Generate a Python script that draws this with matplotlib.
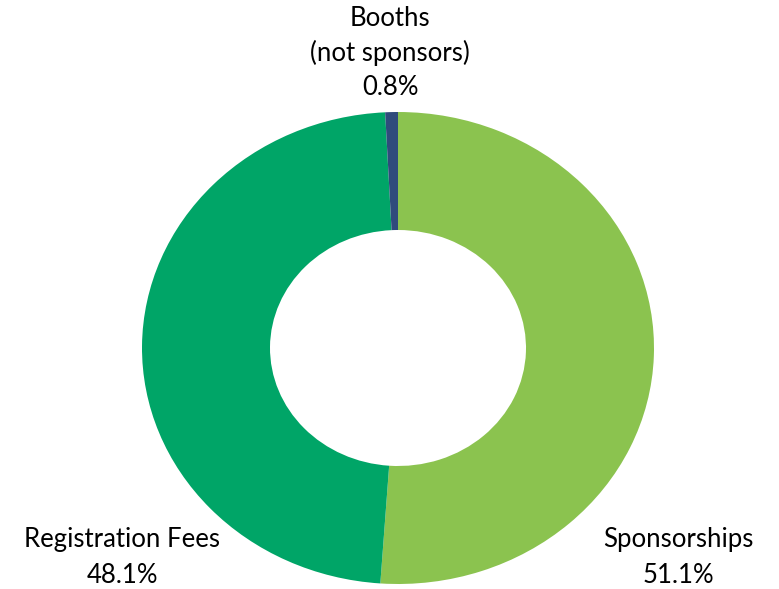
import matplotlib
matplotlib.use('Agg')
import matplotlib.pyplot as plt

labels = ['Sponsorships', 'Registration Fees', 'Booths\n(not sponsors)']
shares = [51.1, 48.1, 0.8]
colors = ['#8BC34F', '#00A567', '#2F4B7C']

plt.rcParams['font.family'] = ['Lato', 'DejaVu Sans']

fig = plt.figure(figsize=(7.79, 5.89), dpi=100)
ax = fig.add_axes([0, 0, 1, 1])

ax.pie(shares, colors=colors, startangle=90, counterclock=False,
       radius=1.0, wedgeprops=dict(width=0.5, edgecolor='none'))

# the original donut is slightly squashed vertically
ax.set_aspect('auto')
ax.set_xlim(-398 / 256, 381 / 256)
ax.set_ylim(-241 / 236, 348 / 236)
ax.axis('off')

# labels placed like the original
pos = [(1.094, -0.886), (-1.078, -0.886), (-0.031, 1.25)]
spacing = [1.55, 1.55, 1.42]
for lab, val, (x, y), ls in zip(labels, shares, pos, spacing):
    ax.text(x, y, f'{lab}\n{val:.1f}%', ha='center', va='center',
            fontsize=18.5, linespacing=ls, color='#000000')

plt.savefig('out.png', dpi=100)
plt.close()
